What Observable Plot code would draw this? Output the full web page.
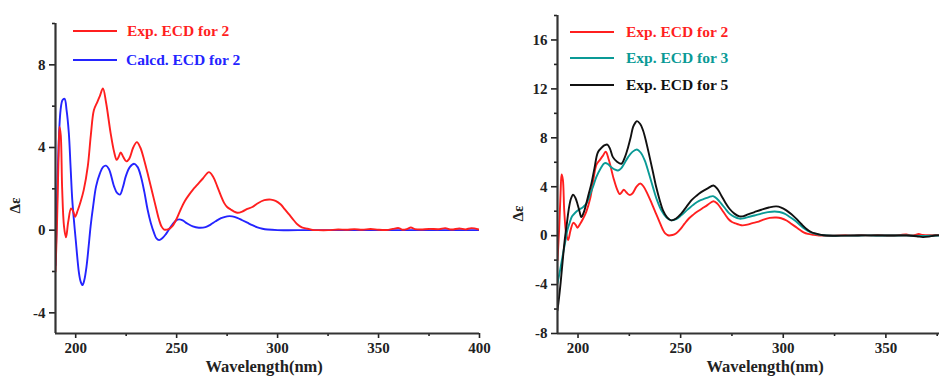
<!DOCTYPE html>
<html><head><meta charset="utf-8">
<script src="https://cdn.jsdelivr.net/npm/d3@7"></script>
<script src="https://cdn.jsdelivr.net/npm/@observablehq/plot@0.6"></script>
<style>
body{margin:0;overflow:hidden;background:#fff}
#wrap{position:relative;width:939px;height:376px;overflow:hidden;font-family:'Liberation Serif','DejaVu Serif',Times,serif;font-weight:bold;color:#222}
.panel{position:absolute;top:0}
.panel svg{overflow:visible;max-width:none !important;height:376px !important}
.panel svg text{font-family:'Liberation Serif','DejaVu Serif',Times,serif;font-weight:bold}
.lab{position:absolute;font-size:16.5px;white-space:nowrap;line-height:17px}
.ylab{position:absolute;font-size:15px;white-space:nowrap;transform:rotate(-90deg);transform-origin:center}
.leg{position:absolute;font-size:15.5px;white-space:nowrap;height:20px;line-height:20px}
.leg svg{position:absolute;left:0;top:0}
.leg span{position:absolute;top:0}
</style></head>
<body><div id="wrap"></div>
<script>
// ---- data ----
const leftXMajor = [200, 250, 300, 350, 400];
const rightXMajor = [200, 250, 300, 350];
const xMinorTicks = [225, 275, 325, 375];
const leftYMajor = [-4, 0, 4, 8];
const leftYMinor = [-2, 2, 6, 10];
const rightYMajor = [-8, -4, 0, 4, 8, 12, 16];
const rightYMinor = [-6, -2, 2, 6, 10, 14, 18];

const exp2Wl = [190,190.8,191.5,192,192.6,193.3,194.2,195.2,196.3,197.7,198.8,199.7,201,202.5,204,206,207.5,209,210.7,212,213.5,215,217.3,219,220.3,221.3,222.3,223.5,225.1,226.5,228.5,230.3,232,233.9,236,238,240,241.3,242.5,243.8,246,247.9,250,252,254,256.2,258,260.3,263,266,268,270.1,272,273.5,275,276.8,278.5,280.1,282.5,285,287.5,290,293.4,296.7,299,301.6,303.5,305.7,308,309.9,312,314.9,317.4,320,325,330,334,338,342,346,350,354,357,360,362,364,366,368,371,375,380,383,386,390,393,396,400];
const exp2Val = [-2.0,0.5,3.5,5.0,4.6,2.0,0.2,-0.35,0.4,1.05,0.9,0.65,0.95,1.4,1.95,3.1,4.6,5.8,6.2,6.5,6.86,6.2,4.7,3.8,3.4,3.55,3.76,3.55,3.33,3.45,4.0,4.26,4.0,3.4,2.6,1.8,1.0,0.5,0.18,0.03,0.05,0.2,0.55,1.0,1.4,1.72,1.95,2.2,2.5,2.81,2.6,2.12,1.65,1.32,1.12,1.0,0.9,0.84,0.9,1.03,1.12,1.29,1.45,1.48,1.42,1.24,1.02,0.76,0.48,0.27,0.14,0.07,0.01,0,0,0.03,0.02,0.05,0.02,0.06,0.02,0.01,0.06,0.1,0.02,0.05,0.13,0.05,0.03,0.06,0.05,0.1,0.03,0.08,0.04,0.1,0.03];

const calc2Wl = [190,190.6,191.2,192.5,193.5,194.5,195.5,196.6,197.5,198.3,199.2,200,201.6,202.5,203.4,204.3,205.4,206.4,207.4,208.7,210.1,212,213.5,215,216.5,219,220.5,221.9,223.3,224.8,226.8,229,230.7,232.3,234,235.6,237.2,238.8,240,241.3,243,244.6,246.3,247.9,249.5,251.2,253,255.3,258,261,264.3,266.8,269.3,272,275,277.5,280,282.5,285,287.5,290,292.5,295,300,310,400];
const calc2Val = [-1.7,0.5,3.1,5.8,6.3,6.35,5.8,4.7,3.0,1.48,0.4,-0.45,-2.05,-2.5,-2.66,-2.4,-1.73,-0.8,0.2,1.2,2.12,2.75,3.05,3.12,2.95,2.12,1.8,1.72,2.05,2.6,3.05,3.21,3.05,2.6,1.85,1.0,0.35,-0.13,-0.4,-0.48,-0.38,-0.2,0.05,0.27,0.45,0.52,0.47,0.32,0.18,0.12,0.15,0.27,0.43,0.58,0.67,0.67,0.6,0.48,0.36,0.24,0.14,0.07,0.03,0,0,0];

const exp3Wl = [190,191.3,192.7,194,194.8,196,197.1,198.5,200,202.4,204,205.7,207.3,208.9,211,213,214.6,216.2,218,219.5,221,222.7,224.4,226.5,228.7,230.5,232.5,234.5,236.5,238.5,240.6,243,245.4,247.8,250.3,253.5,256.8,259,261.7,263.8,265.8,267.8,269.8,271.8,273.8,276,278.7,280.7,282.8,286,289.3,292.5,295.8,298.2,300.6,303,305.5,308,310.4,313,315.3,318,321,330,340,350,360,368,375,390,400];
const exp3Val = [-3.9,-2.8,-1.47,-0.3,0.43,1.1,1.58,1.85,2.07,2.33,2.6,3.29,4.0,4.78,5.5,5.93,5.85,5.6,5.4,5.33,5.5,5.95,6.42,6.85,7.04,6.8,6.15,5.1,3.97,2.9,2.07,1.5,1.25,1.35,1.66,2.15,2.61,2.85,3.02,3.15,3.23,3.0,2.61,2.2,1.8,1.55,1.39,1.42,1.52,1.65,1.8,1.92,1.98,1.93,1.8,1.55,1.25,0.9,0.57,0.3,0.16,0.06,0.01,0,0.02,0.01,0.02,-0.03,0.01,0.01,0];

const exp5Wl = [190,190.8,191.5,192.5,193.5,194.5,195.4,196.5,197.6,198.7,199.7,200.7,201.6,202.8,204,205.2,206.5,208,209.7,211.7,213,214.3,215.6,217,219,221.1,222.8,224.4,225.6,226.8,227.8,228.7,230.2,231.7,233.3,234.9,236.5,238.1,239.8,241.4,243.4,245.4,247.8,250.3,252.8,255.2,257.6,260,263,266,268,269.8,271.8,273.8,276.2,278.7,280.7,282.8,286,289.3,293,296.6,299,301.5,304,306.3,308.8,311.2,313.6,316.1,318.5,321,330,340,350,360,365,368,371,374,385,400];
const exp5Val = [-6.1,-5.0,-3.9,-2.1,-0.38,0.9,2.07,3.0,3.35,3.1,2.61,2.0,1.52,1.9,2.61,3.4,4.24,5.5,6.82,7.23,7.4,7.45,7.1,6.42,6.05,5.88,6.4,7.23,8.0,8.87,9.2,9.36,9.15,8.6,7.6,6.42,5.2,3.97,2.9,2.07,1.5,1.25,1.4,1.8,2.35,2.88,3.25,3.56,3.85,4.1,3.8,3.29,2.7,2.2,1.8,1.58,1.6,1.74,1.93,2.12,2.3,2.39,2.3,2.07,1.75,1.39,0.95,0.57,0.3,0.16,0.06,0.01,0,0.02,0.01,0.01,-0.05,-0.12,-0.08,0.01,0.03,0.02];

const leftLegend = ["Exp. ECD for 2", "Calcd. ECD for 2"];
const rightLegend = ["Exp. ECD for 2", "Exp. ECD for 3", "Exp. ECD for 5"];
const xLabel = "Wavelength(nm)";
const yLabel = "Δε";

const RED = "#ff1f1f", BLUE = "#2424ff", TEAL = "#0a9a96", BLACK = "#111111";
const FONT = "'Liberation Serif','DejaVu Serif',Times,serif";

const rows = (wl, val) => wl.map((x, i) => ({x, y: val[i]}));

function panel({width, marginLeft, marginRight, marginTop, xMajor, yDomain, yMajor, yMinor, series}) {
  return Plot.plot({
    width, height: 376, marginLeft, marginRight, marginTop, marginBottom: 43,
    style: {fontFamily: FONT, fontWeight: "bold", fontSize: "15px", color: "#222", background: "transparent", overflow: "visible"},
    x: {domain: [190, 400]},
    y: {domain: yDomain},
    marks: [
      Plot.axisX({ticks: xMajor, tickSize: 5, tickPadding: 4, label: null, strokeWidth: 1.6, tickFormat: d => String(d)}),
      Plot.axisX({ticks: xMinorTicks, tickSize: 3, text: null, label: null, strokeWidth: 1.6}),
      Plot.axisY({ticks: yMajor, tickSize: 6, tickPadding: 4, label: null, strokeWidth: 1.6, tickFormat: d => String(d)}),
      Plot.axisY({ticks: yMinor, tickSize: 3, text: null, label: null, strokeWidth: 1.6}),
      ...series.map(s => Plot.line(rows(s.wl, s.val), {x: "x", y: "y", stroke: s.color, strokeWidth: 1.9, curve: "catmull-rom", clip: true})),
      Plot.ruleX([190], {y1: yDomain[0], y2: yDomain[1], stroke: "#333", strokeWidth: 2.2}),
      Plot.ruleY([yDomain[0]], {stroke: "#333", strokeWidth: 2.2})
    ]
  });
}

const wrap = document.getElementById("wrap");

function addPanel(left, width, plot) {
  const d = document.createElement("div");
  d.className = "panel";
  d.style.left = left + "px";
  d.style.width = width + "px";
  d.appendChild(plot);
  wrap.appendChild(d);
}

addPanel(0, 480, panel({
  width: 480, marginLeft: 55, marginRight: 1, marginTop: 23, xMajor: leftXMajor,
  yDomain: [-5, 10], yMajor: leftYMajor, yMinor: leftYMinor,
  series: [
    {wl: calc2Wl, val: calc2Val, color: BLUE},
    {wl: exp2Wl, val: exp2Val, color: RED}
  ]
}));

addPanel(480, 508, panel({
  width: 508, marginLeft: 77, marginRight: 0, marginTop: 15, xMajor: rightXMajor,
  yDomain: [-8, 18], yMajor: rightYMajor, yMinor: rightYMinor,
  series: [
    {wl: exp2Wl, val: exp2Val, color: RED},
    {wl: exp3Wl, val: exp3Val, color: TEAL},
    {wl: exp5Wl, val: exp5Val, color: BLACK}
  ]
}));

function addText(cls, text, left, top) {
  const d = document.createElement("div");
  d.className = cls;
  d.textContent = text;
  d.style.left = left + "px";
  d.style.top = top + "px";
  wrap.appendChild(d);
  return d;
}

function addLegend(x, y, label, color, textDx) {
  const d = document.createElement("div");
  d.className = "leg";
  d.style.left = x + "px";
  d.style.top = (y - 10) + "px";
  d.style.width = "200px";
  d.innerHTML = `<svg width="46" height="20"><line x1="0" x2="44" y1="10" y2="10" stroke="${color}" stroke-width="2"/></svg>`;
  const s = document.createElement("span");
  s.textContent = label;
  s.style.left = textDx + "px";
  s.style.color = color;
  d.appendChild(s);
  wrap.appendChild(d);
}

addLegend(73, 31, leftLegend[0], RED, 54);
addLegend(73, 60, leftLegend[1], BLUE, 53);
addLegend(570, 32, rightLegend[0], RED, 56);
addLegend(570, 58, rightLegend[1], TEAL, 56);
addLegend(570, 85, rightLegend[2], BLACK, 56);

// axis titles
const xl1 = addText("lab", xLabel, 0, 358);
xl1.style.left = (264 - xl1.offsetWidth / 2) + "px";
const xl2 = addText("lab", xLabel, 0, 358);
xl2.style.left = (765 - xl2.offsetWidth / 2) + "px";
const yl1 = addText("ylab", yLabel, 0, 0);
yl1.style.left = (16 - yl1.offsetWidth / 2) + "px";
yl1.style.top = (205 - yl1.offsetHeight / 2) + "px";
const yl2 = addText("ylab", yLabel, 0, 0);
yl2.style.left = (519 - yl2.offsetWidth / 2) + "px";
yl2.style.top = (213 - yl2.offsetHeight / 2) + "px";
</script>
</body></html>
